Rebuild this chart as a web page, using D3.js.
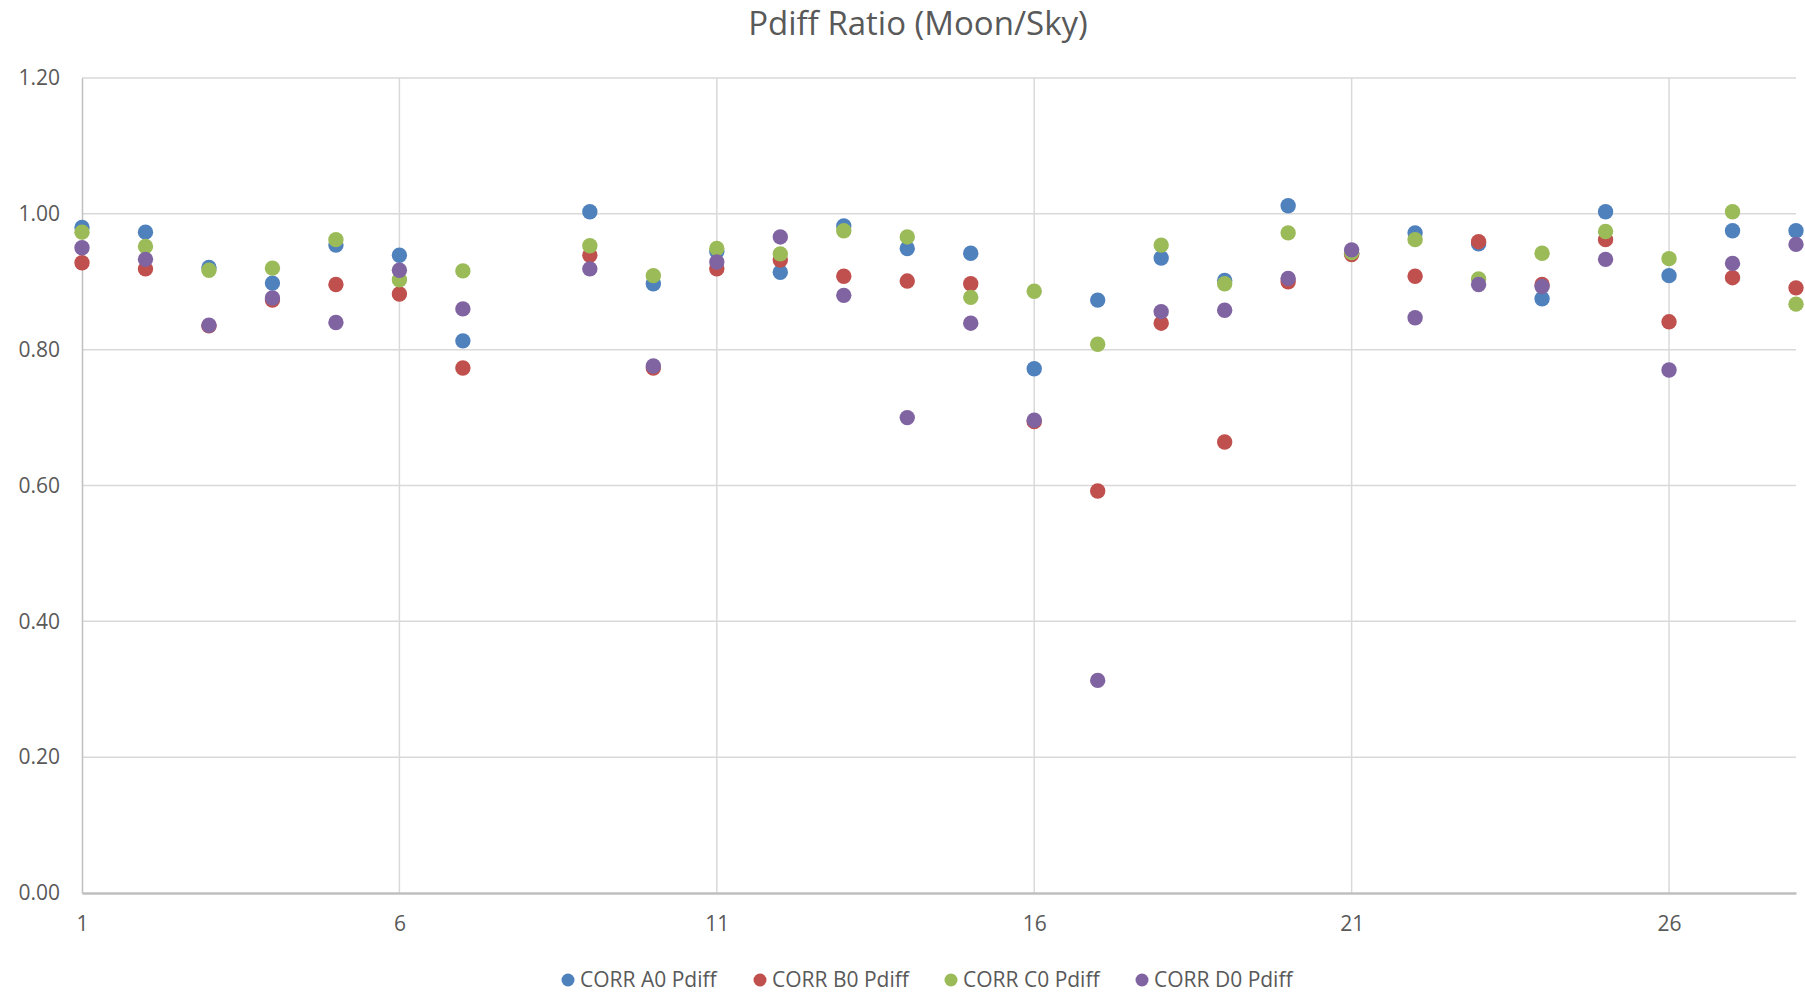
<!DOCTYPE html>
<html>
<head>
<meta charset="utf-8">
<script src="https://cdn.jsdelivr.net/npm/d3@7"></script>
<style>
  body { margin: 0; background: #fff; }
  svg text { font-family: "Open Sans", sans-serif; fill: #595959; }
</style>
</head>
<body>
<script>
// run number (x) - no points at 8
var runs = [1, 2, 3, 4, 5, 6, 7, 9, 10, 11, 12, 13, 14, 15, 16, 17, 18, 19, 20, 21, 22, 23, 24, 25, 26, 27, 28];

var corrA0 = [0.980, 0.973, 0.921, 0.898, 0.954, 0.939, 0.813, 1.003, 0.897, 0.945, 0.914, 0.982, 0.949, 0.942, 0.772, 0.873, 0.935, 0.902, 1.012, 0.942, 0.972, 0.956, 0.875, 1.003, 0.909, 0.975, 0.975];
var corrB0 = [0.928, 0.919, 0.835, 0.873, 0.896, 0.882, 0.773, 0.939, 0.773, 0.919, 0.932, 0.908, 0.901, 0.897, 0.694, 0.592, 0.839, 0.664, 0.900, 0.940, 0.908, 0.959, 0.896, 0.962, 0.841, 0.906, 0.891];
var corrC0 = [0.973, 0.952, 0.917, 0.920, 0.962, 0.903, 0.916, 0.953, 0.909, 0.949, 0.941, 0.975, 0.966, 0.877, 0.886, 0.808, 0.954, 0.897, 0.972, 0.943, 0.962, 0.904, 0.942, 0.974, 0.934, 1.003, 0.867];
var corrD0 = [0.950, 0.933, 0.836, 0.876, 0.840, 0.917, 0.860, 0.919, 0.776, 0.929, 0.966, 0.880, 0.700, 0.839, 0.696, 0.313, 0.856, 0.858, 0.905, 0.947, 0.847, 0.896, 0.893, 0.933, 0.770, 0.927, 0.955];

var seriesNames = ["CORR A0 Pdiff", "CORR B0 Pdiff", "CORR C0 Pdiff", "CORR D0 Pdiff"];
var seriesColors = ["#4f81bd", "#c0504d", "#9bbb59", "#8064a2"];

var xTicks = [1, 6, 11, 16, 21, 26];
var yTicks = [0, 0.2, 0.4, 0.6, 0.8, 1.0, 1.2];

var W = 1805, H = 993;
var margin = {top: 78, right: 9, bottom: 100, left: 82};
var width = W - margin.left - margin.right,
    height = H - margin.top - margin.bottom;

var x = d3.scaleLinear().domain([1, 28]).range([0, width]);
var y = d3.scaleLinear().domain([0, 1.2]).range([height, 0]);

var svg = d3.select("body").append("svg")
    .attr("width", W)
    .attr("height", H);

svg.append("text")
    .attr("x", 918)
    .attr("y", 35)
    .attr("text-anchor", "middle")
    .style("font-size", "33px")
    .text("Pdiff Ratio (Moon/Sky)");

var g = svg.append("g")
    .attr("transform", "translate(" + margin.left + "," + margin.top + ")");

// gridlines
g.append("g").selectAll("line.h")
    .data(yTicks.filter(function(d) { return d > 0; }))
  .enter().append("line")
    .attr("x1", 0).attr("x2", width)
    .attr("y1", function(d) { return y(d); })
    .attr("y2", function(d) { return y(d); })
    .attr("stroke", "#d9d9d9")
    .attr("stroke-width", 1.5);

g.append("g").selectAll("line.v")
    .data(xTicks.filter(function(d) { return d > 1; }))
  .enter().append("line")
    .attr("y1", 0).attr("y2", height)
    .attr("x1", function(d) { return x(d); })
    .attr("x2", function(d) { return x(d); })
    .attr("stroke", "#d9d9d9")
    .attr("stroke-width", 1.5);

// axes
var yAxis = g.append("g")
    .call(d3.axisLeft(y).tickValues(yTicks).tickSize(0).tickPadding(22).tickFormat(d3.format(".2f")));
yAxis.select(".domain").attr("stroke", "#bfbfbf").attr("stroke-width", 1.5);
yAxis.selectAll("text").style("font-size", "21px").style("font-family", null);

var xAxis = g.append("g")
    .attr("transform", "translate(0," + height + ")")
    .call(d3.axisBottom(x).tickValues(xTicks).tickSize(0).tickPadding(23).tickFormat(d3.format("d")));
xAxis.select(".domain").attr("stroke", "#bfbfbf").attr("stroke-width", 2.5);
xAxis.selectAll("text").style("font-size", "21px").style("font-family", null);
svg.selectAll(".tick text").attr("fill", "#595959");

// points
var allSeries = [corrA0, corrB0, corrC0, corrD0];
allSeries.forEach(function(vals, i) {
  g.append("g").selectAll("circle")
      .data(vals)
    .enter().append("circle")
      .attr("cx", function(d, j) { return x(runs[j]); })
      .attr("cy", function(d) { return y(d); })
      .attr("r", 7.7)
      .attr("fill", seriesColors[i]);
});

// legend
var legendX = [568, 760, 951, 1142];
var legend = svg.append("g").selectAll("g")
    .data(seriesNames)
  .enter().append("g")
    .attr("transform", function(d, i) { return "translate(" + legendX[i] + ",980)"; });

legend.append("circle")
    .attr("r", 6.5)
    .attr("fill", function(d, i) { return seriesColors[i]; });

legend.append("text")
    .attr("x", 12)
    .attr("dy", "0.35em")
    .style("font-size", "21px")
    .text(function(d) { return d; });
</script>
</body>
</html>
